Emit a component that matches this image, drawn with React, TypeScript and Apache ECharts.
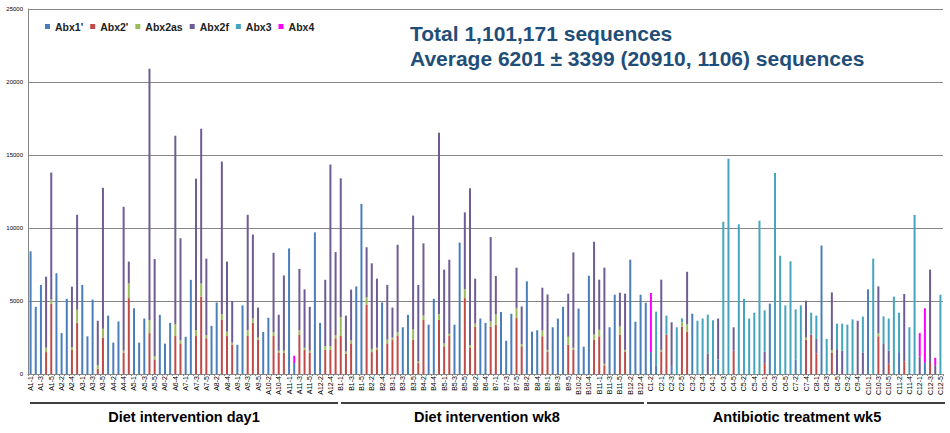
import React, { useEffect, useRef } from "react";
import * as echarts from "echarts";

const seriesNames = ["Abx1'", "Abx2'", "Abx2as", "Abx2f", "Abx3", "Abx4"];
const seriesColors = ["#4A7EBB", "#BE4B48", "#9BBB59", "#6E5C94", "#45A5BE", "#FF00FF"];

const groupNames = ["Diet intervention day1", "Diet intervention wk8", "Antibiotic treatment wk5"];
const titleLines = ["Total 1,101,171 sequences", "Average 6201 \u00B1 3399 (20910, 1106) sequences"];
const yTicks = [0, 5000, 10000, 15000, 20000, 25000];

// sample numbers per subject, per group
const subjectSamplesA = [
  [1, 2, 3, 4, 5], [1, 2, 3, 4, 5], [1, 2, 3, 4, 5], [1, 2, 3, 4, 5], [1, 2, 3, 4, 5], [1, 2, 3, 4, 5],
  [1, 2, 3, 4, 5], [1, 2, 3, 4, 5], [1, 2, 3, 4, 5], [1, 2, 3, 4, 5], [1, 2, 3, 4, 5], [1, 2, 3, 4, 5],
];
const subjectSamplesB = [
  [1, 2, 3, 4, 5], [1, 2, 3, 4, 5], [1, 2, 3, 4, 5], [1, 2, 3, 4, 5], [1, 2, 3, 4, 5], [1, 2, 3, 4, 5],
  [1, 2, 3, 4, 5], [1, 2, 3, 4, 5], [1, 2, 3, 4, 5], [1, 2, 3, 4, 5], [1, 2, 3, 4, 5], [1, 2, 3, 4, 5],
];
const subjectSamplesC = [
  [2, 3], [1, 2, 3, 4, 5], [1, 2, 3, 4, 5], [1, 2, 3, 4, 5], [1, 2, 3, 4, 5], [1, 2, 3, 4, 5],
  [1, 2, 3, 4, 5], [1, 2, 3, 4, 5], [1, 2, 3, 4, 5], [1, 2, 3, 4, 5], [1, 2, 3, 4, 5], [1, 2, 3, 4, 5],
];

function buildLabels(prefix: string, subjects: number[][]): string[] {
  const out: string[] = [];
  subjects.forEach((s, i) => s.forEach((k) => out.push(`${prefix}${i + 1}-${k}`)));
  return out;
}

const categories = [
  ...buildLabels("A", subjectSamplesA),
  ...buildLabels("B", subjectSamplesB),
  ...buildLabels("C", subjectSamplesC),
];

const abx1 = [
  8400, 4600, 6100, 0, 0, 6900, 2800, 5150, 0, 0,
  6100, 2580, 5100, 0, 0, 4000, 2150, 3600, 0, 0,
  4500, 2150, 3800, 0, 0, 4050, 2080, 3500, 0, 0,
  2550, 6450, 0, 0, 0, 3300, 4900, 0, 0, 0,
  2000, 4700, 0, 0, 0, 2880, 3850, 0, 0, 0,
  8600, 750, 0, 0, 0, 9700, 3500, 0, 0, 0,
  0, 0, 0, 6000, 11650, 0, 0, 0, 4900, 0,
  0, 0, 3200, 4050, 0, 0, 0, 3380, 5150, 0,
  0, 0, 3380, 9000, 0, 0, 0, 3800, 3500, 0,
  0, 4250, 2280, 4130, 0, 0, 6350, 2900, 3000, 0,
  0, 3200, 3800, 4600, 0, 0, 4480, 1870, 6730, 0,
  0, 0, 3200, 5430, 0, 0, 7830, 3580, 5430, 4880,
  1500, 600, 0, 0, 500, 0, 0, 0, 4130, 0,
  0, 0, 0, 1000, 0, 0, 0, 0, 0, 0,
  0, 0, 0, 4820, 0, 0, 0, 0, 1000, 0,
  0, 0, 0, 8800, 0, 0, 0, 0, 0, 0,
  0, 0, 5800, 0, 0, 0, 0, 0, 1500, 0,
  0, 0, 0, 760, 0, 0, 0,
];

const abx2p = [
  0, 0, 0, 1500, 4800, 0, 0, 0, 1650, 3500,
  0, 0, 0, 350, 2500, 0, 0, 0, 1450, 5200,
  0, 0, 0, 2800, 1000, 0, 0, 0, 2600, 2100,
  0, 0, 2600, 5300, 2450, 0, 0, 3700, 2600, 2000,
  0, 0, 2600, 3500, 2350, 0, 0, 2600, 1480, 1450,
  0, 0, 2700, 1650, 1480, 0, 0, 1650, 1650, 2450,
  2600, 1400, 2100, 0, 0, 4750, 1500, 1650, 0, 2100,
  2350, 2600, 0, 0, 2350, 750, 3700, 0, 0, 3700,
  1900, 2600, 0, 0, 5200, 1780, 3250, 0, 0, 3250,
  3380, 0, 0, 0, 3830, 1900, 0, 0, 0, 2580,
  1550, 0, 0, 0, 2000, 1670, 0, 0, 0, 2350,
  2580, 600, 0, 0, 2700, 1550, 0, 0, 0, 0,
  0, 0, 1550, 2700, 0, 0, 3250, 2900, 0, 0,
  0, 0, 0, 0, 0, 0, 1600, 0, 0, 0,
  0, 0, 700, 0, 0, 0, 0, 0, 0, 0,
  2350, 2690, 1400, 0, 0, 1440, 0, 0, 0, 0,
  0, 0, 0, 0, 2580, 0, 700, 0, 0, 870,
  0, 0, 0, 0, 750, 0, 0,
];

const abx2as = [
  0, 0, 0, 300, 300, 0, 0, 0, 200, 900,
  0, 0, 0, 250, 600, 0, 0, 0, 150, 1000,
  0, 0, 0, 900, 200, 0, 0, 0, 800, 200,
  0, 0, 400, 900, 200, 0, 0, 400, 300, 150,
  0, 0, 400, 300, 150, 0, 0, 250, 120, 150,
  0, 0, 300, 150, 120, 0, 0, 250, 250, 200,
  1300, 150, 200, 0, 0, 500, 200, 150, 0, 250,
  150, 250, 0, 0, 700, 100, 300, 0, 0, 400,
  200, 150, 0, 0, 600, 200, 200, 0, 0, 350,
  700, 0, 0, 0, 700, 150, 0, 0, 0, 400,
  100, 0, 0, 0, 550, 130, 0, 0, 0, 350,
  450, 100, 0, 0, 550, 100, 0, 0, 0, 0,
  0, 0, 100, 0, 0, 0, 300, 500, 0, 0,
  0, 0, 0, 0, 0, 0, 0, 0, 0, 0,
  0, 0, 0, 0, 0, 0, 0, 0, 0, 0,
  150, 0, 0, 0, 0, 200, 0, 0, 0, 0,
  0, 0, 0, 0, 200, 0, 0, 0, 0, 0,
  0, 0, 0, 0, 0, 0, 0,
];

const abx2f = [
  0, 0, 0, 4870, 8700, 0, 0, 0, 4130, 6500,
  0, 0, 0, 3050, 9650, 0, 0, 0, 9850, 1500,
  0, 0, 0, 17210, 6680, 0, 0, 0, 12920, 7000,
  0, 0, 10380, 10600, 5250, 0, 0, 10450, 4800, 2850,
  0, 0, 7900, 5750, 2050, 0, 0, 5450, 2460, 5150,
  0, 0, 4200, 4000, 3000, 0, 0, 4550, 12450, 5700,
  9500, 2450, 3480, 0, 0, 3430, 5880, 4730, 0, 3750,
  2050, 6000, 0, 0, 7800, 5250, 4950, 0, 0, 12430,
  5050, 5080, 0, 0, 5270, 10740, 3080, 0, 0, 5780,
  2630, 0, 0, 0, 2750, 2580, 0, 0, 0, 2930,
  3800, 0, 0, 0, 2950, 6530, 0, 0, 0, 6360,
  3430, 6580, 0, 0, 2320, 3850, 0, 0, 0, 0,
  0, 0, 4810, 0, 3040, 0, 0, 3600, 0, 0,
  0, 1400, 0, 2800, 0, 0, 1600, 0, 0, 0,
  0, 0, 830, 0, 0, 0, 0, 0, 0, 0,
  2520, 0, 1000, 0, 0, 3950, 1700, 1600, 0, 0,
  3650, 1450, 0, 0, 3220, 2100, 900, 0, 0, 4610,
  0, 0, 1200, 0, 6400, 606, 0,
];

const abx3 = [
  0, 0, 0, 0, 0, 0, 0, 0, 0, 0,
  0, 0, 0, 0, 0, 0, 0, 0, 0, 0,
  0, 0, 0, 0, 0, 0, 0, 0, 0, 0,
  0, 0, 0, 0, 0, 0, 0, 0, 0, 0,
  0, 0, 0, 0, 0, 0, 0, 0, 0, 0,
  0, 0, 0, 0, 0, 0, 0, 0, 0, 0,
  0, 0, 0, 0, 0, 0, 0, 0, 0, 0,
  0, 0, 0, 0, 0, 0, 0, 0, 0, 0,
  0, 0, 0, 0, 0, 0, 0, 0, 0, 0,
  0, 0, 0, 0, 0, 0, 0, 0, 0, 0,
  0, 0, 0, 0, 0, 0, 0, 0, 0, 0,
  0, 0, 0, 0, 0, 0, 0, 0, 0, 0,
  0, 3670, 0, 1300, 0, 3200, 260, 0, 0, 3650,
  3800, 2660, 3680, 0, 10430, 14750, 0, 10250, 5150, 3800,
  4200, 10500, 2830, 0, 13770, 8100, 4700, 7720, 3430, 4700,
  0, 1510, 1600, 0, 2400, 0, 1750, 1850, 3380, 3740,
  0, 2480, 0, 7900, 0, 1850, 2200, 5300, 2700, 0,
  3200, 10900, 0, 0, 0, 0, 5430,
];

const abx4 = [
  0, 0, 0, 0, 0, 0, 0, 0, 0, 0,
  0, 0, 0, 0, 0, 0, 0, 0, 0, 0,
  0, 0, 0, 0, 0, 0, 0, 0, 0, 0,
  0, 0, 0, 0, 0, 0, 0, 0, 0, 0,
  0, 0, 0, 0, 0, 0, 0, 0, 0, 0,
  0, 500, 0, 0, 0, 0, 0, 0, 0, 0,
  0, 0, 0, 0, 0, 0, 0, 0, 0, 0,
  0, 0, 0, 0, 0, 0, 0, 0, 0, 0,
  0, 0, 0, 0, 0, 0, 0, 0, 0, 0,
  0, 0, 0, 0, 0, 0, 0, 0, 0, 0,
  0, 0, 0, 0, 0, 0, 0, 0, 0, 0,
  0, 0, 0, 0, 0, 0, 0, 0, 0, 0,
  4050, 0, 0, 0, 0, 0, 0, 0, 0, 0,
  0, 0, 0, 0, 0, 0, 0, 0, 0, 0,
  0, 0, 0, 0, 0, 0, 0, 0, 0, 0,
  0, 0, 0, 0, 0, 0, 0, 0, 0, 0,
  0, 0, 0, 0, 0, 0, 0, 0, 0, 0,
  0, 0, 1600, 3740, 0, 500, 0,
];

const seriesValues = [abx1, abx2p, abx2as, abx2f, abx3, abx4];

const FONT = "'Liberation Sans', Arial, sans-serif";

export default function App() {
  const ref = useRef<HTMLDivElement>(null);

  useEffect(() => {
    if (!ref.current) return;
    const chart = echarts.init(ref.current, undefined, { renderer: "svg" });

    const groupLines = [
      [30, 338],
      [341, 644],
      [647, 945],
    ];
    const groupCenters = [184, 487, 797];

    const graphic: any[] = [];
    groupLines.forEach(([x1, x2]) => {
      graphic.push({
        type: "line",
        shape: { x1, y1: 403, x2, y2: 403 },
        style: { stroke: "#000", lineWidth: 1.5 },
        silent: true,
      });
    });
    groupNames.forEach((name, i) => {
      graphic.push({
        type: "text",
        x: groupCenters[i],
        y: 417,
        style: {
          text: name,
          font: `bold 14.5px ${FONT}`,
          fill: "#000",
          align: "center",
          verticalAlign: "middle",
        },
        silent: true,
      });
    });
    titleLines.forEach((t, i) => {
      graphic.push({
        type: "text",
        x: 410,
        y: 33 + i * 25,
        style: {
          text: t,
          font: `bold 21px ${FONT}`,
          fill: "#1F4E79",
          align: "left",
          verticalAlign: "middle",
        },
        silent: true,
      });
    });

    chart.setOption({
      animation: false,
      backgroundColor: "#fff",
      textStyle: { fontFamily: FONT },
      grid: { left: 28, right: 7, top: 9, bottom: 59, containLabel: false },
      legend: {
        left: 40,
        top: 16,
        itemWidth: 5,
        itemHeight: 5,
        itemGap: 7,
        icon: "rect",
        textStyle: { fontSize: 10.5, fontWeight: "bold", color: "#222", fontFamily: FONT },
        data: seriesNames,
      },
      xAxis: {
        type: "category",
        data: categories,
        axisLine: { lineStyle: { color: "#868686", width: 1 } },
        axisTick: { show: true, interval: 0, length: 2, lineStyle: { color: "#868686" } },
        axisLabel: { interval: 1, rotate: 90, fontSize: 7, margin: 2, color: "#000", fontFamily: FONT },
      },
      yAxis: {
        type: "value",
        min: yTicks[0],
        max: yTicks[yTicks.length - 1],
        interval: 5000,
        axisLine: { show: true, lineStyle: { color: "#868686", width: 1 } },
        axisTick: { show: false },
        splitLine: { lineStyle: { color: "#868686", width: 1 } },
        axisLabel: {
          fontSize: 6,
          margin: 5,
          color: "#000",
          fontFamily: FONT,
          formatter: (v: number) => String(v),
        },
      },
      series: seriesNames.map((name, i) => ({
        name,
        type: "bar",
        stack: "total",
        barWidth: 2,
        itemStyle: { color: seriesColors[i] },
        data: seriesValues[i],
      })),
      graphic,
    });

    return () => chart.dispose();
  }, []);

  return (
    <div
      ref={ref}
      style={{ position: "fixed", left: 0, top: 0, width: 950, height: 433, background: "#fff" }}
    />
  );
}
